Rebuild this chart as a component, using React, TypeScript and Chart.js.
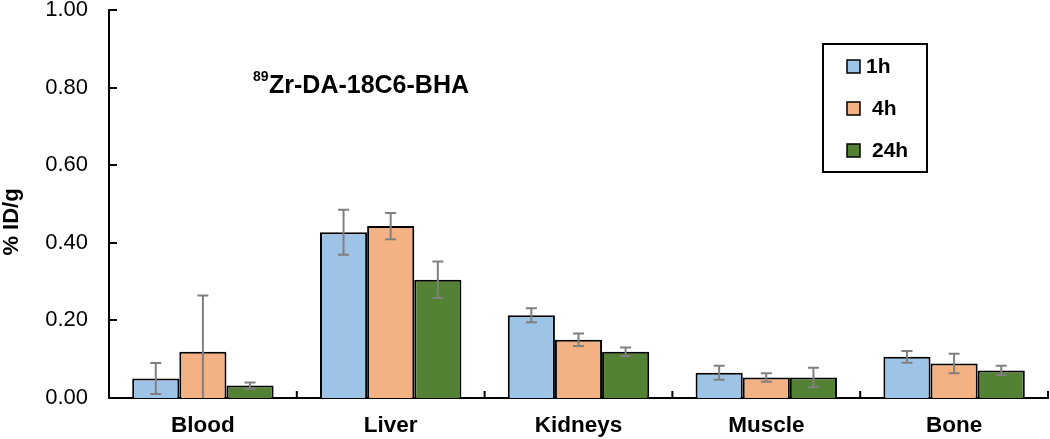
import React, { useEffect, useRef } from "react";
import { Chart, registerables } from "chart.js";

Chart.register(...registerables);

const categories = ["Blood", "Liver", "Kidneys", "Muscle", "Bone"];
const seriesLabels = ["1h", "4h", "24h"];
const mean1h = [0.05, 0.427, 0.213, 0.065, 0.106];
const mean4h = [0.119, 0.443, 0.15, 0.053, 0.089];
const mean24h = [0.032, 0.305, 0.119, 0.053, 0.071];
const err1h = [0.04, 0.058, 0.018, 0.018, 0.015];
const err4h = [0.145, 0.034, 0.016, 0.011, 0.025];
const err24h = [0.008, 0.047, 0.011, 0.025, 0.012];
const yMin = 0;
const yMax = 1;
const yStep = 0.2;
const yTitle = "% ID/g";
const annotationSup = "89";
const annotationMain = "Zr-DA-18C6-BHA";

const colors = ["#9DC3E6", "#F4B183", "#548235"];
const FONT = "'Liberation Sans', Arial, Helvetica, sans-serif";

const errorBarPlugin = {
  id: "errorBars",
  afterDatasetsDraw(chart: any) {
    const ctx = chart.ctx;
    const yScale = chart.scales.y;
    const area = chart.chartArea;
    ctx.save();
    ctx.beginPath();
    ctx.rect(area.left, area.top, area.right - area.left, area.bottom - area.top);
    ctx.clip();
    ctx.strokeStyle = "#808080";
    ctx.lineWidth = 2;
    chart.data.datasets.forEach((ds: any, di: number) => {
      const meta = chart.getDatasetMeta(di);
      meta.data.forEach((bar: any, i: number) => {
        const v = ds.data[i];
        const e = ds.errors[i];
        const x = bar.x;
        const yt = yScale.getPixelForValue(v + e);
        const yb = yScale.getPixelForValue(v - e);
        const cap = 5.5;
        ctx.beginPath();
        ctx.moveTo(x, yt);
        ctx.lineTo(x, yb);
        ctx.moveTo(x - cap, yt);
        ctx.lineTo(x + cap, yt);
        ctx.moveTo(x - cap, yb);
        ctx.lineTo(x + cap, yb);
        ctx.stroke();
      });
    });
    ctx.restore();
  },
};

const decorPlugin = {
  id: "decor",
  afterDraw(chart: any) {
    const ctx = chart.ctx;
    const area = chart.chartArea;
    const yScale = chart.scales.y;
    ctx.save();
    // inward tick marks on y axis
    ctx.strokeStyle = "#000";
    ctx.lineWidth = 2;
    for (let v = yMin; v <= yMax + 1e-9; v += yStep) {
      const y = Math.round(yScale.getPixelForValue(v));
      ctx.beginPath();
      ctx.moveTo(area.left, y);
      ctx.lineTo(area.left + 8, y);
      ctx.stroke();
    }
    // category boundary ticks on x axis
    const n = categories.length;
    for (let i = 1; i <= n; i++) {
      const x = area.left + ((area.right - area.left) * i) / n;
      ctx.beginPath();
      ctx.moveTo(x, area.bottom);
      ctx.lineTo(x, area.bottom - 7);
      ctx.stroke();
    }
    // y-axis title
    ctx.fillStyle = "#000";
    ctx.font = `bold 22px ${FONT}`;
    ctx.textAlign = "center";
    ctx.textBaseline = "middle";
    ctx.translate(12, 222);
    ctx.rotate(-Math.PI / 2);
    ctx.fillText(yTitle, 0, 0);
    ctx.setTransform(1, 0, 0, 1, 0, 0);
    // annotation
    ctx.textAlign = "left";
    ctx.textBaseline = "alphabetic";
    ctx.font = `bold 14px ${FONT}`;
    ctx.fillText(annotationSup, 253, 81);
    ctx.font = `bold 25px ${FONT}`;
    ctx.fillText(annotationMain, 269, 93);
    // legend
    ctx.lineWidth = 2;
    ctx.strokeStyle = "#000";
    ctx.strokeRect(823, 44, 104, 128);
    const rowY = [66, 108, 150];
    const textX = [866, 872, 872];
    ctx.font = `bold 21px ${FONT}`;
    ctx.textBaseline = "middle";
    seriesLabels.forEach((lab, i) => {
      ctx.fillStyle = colors[i];
      ctx.fillRect(847, rowY[i] - 6, 13, 13);
      ctx.lineWidth = 1.5;
      ctx.strokeRect(847, rowY[i] - 6, 13, 13);
      ctx.fillStyle = "#000";
      ctx.fillText(lab, textX[i], rowY[i] + 1);
    });
    ctx.restore();
  },
};

export default function App() {
  const ref = useRef<HTMLCanvasElement>(null);
  useEffect(() => {
    document.body.style.margin = "0";
    const means = [mean1h, mean4h, mean24h];
    const errs = [err1h, err4h, err24h];
    const chart = new Chart(ref.current as HTMLCanvasElement, {
      type: "bar",
      data: {
        labels: categories,
        datasets: seriesLabels.map((lab, i) => ({
          label: lab,
          data: means[i],
          errors: errs[i],
          backgroundColor: colors[i],
          borderColor: "#000",
          borderWidth: 2,
          categoryPercentage: 0.753,
          barPercentage: 1,
        })) as any,
      },
      options: {
        animation: false,
        responsive: false,
        devicePixelRatio: 1,
        layout: { padding: { top: 10, right: 2, left: 0, bottom: 0 } },
        plugins: { legend: { display: false }, tooltip: { enabled: false } },
        scales: {
          x: {
            grid: { display: false, drawTicks: false },
            border: { display: true, color: "#000", width: 2 },
            ticks: {
              color: "#000",
              padding: 14,
              font: { family: FONT, size: 22.5, weight: "bold" },
            },
            afterFit: (s: any) => {
              s.height = 41;
              s.paddingLeft = 0;
              s.paddingRight = 0;
            },
          },
          y: {
            min: yMin,
            max: yMax,
            grid: { display: false, drawTicks: false },
            border: { display: true, color: "#000", width: 2 },
            ticks: {
              stepSize: yStep,
              color: "#000",
              padding: 21,
              font: { family: FONT, size: 22 },
              callback: (v: any) => Number(v).toFixed(2),
            },
            afterFit: (s: any) => {
              s.width = 109;
              s.paddingTop = 0;
              s.paddingBottom = 0;
            },
          },
        },
      },
      plugins: [errorBarPlugin, decorPlugin],
    });
    return () => chart.destroy();
  }, []);
  return (
    <div style={{ width: 1050, height: 439 }}>
      <canvas ref={ref} width={1050} height={439} />
    </div>
  );
}
